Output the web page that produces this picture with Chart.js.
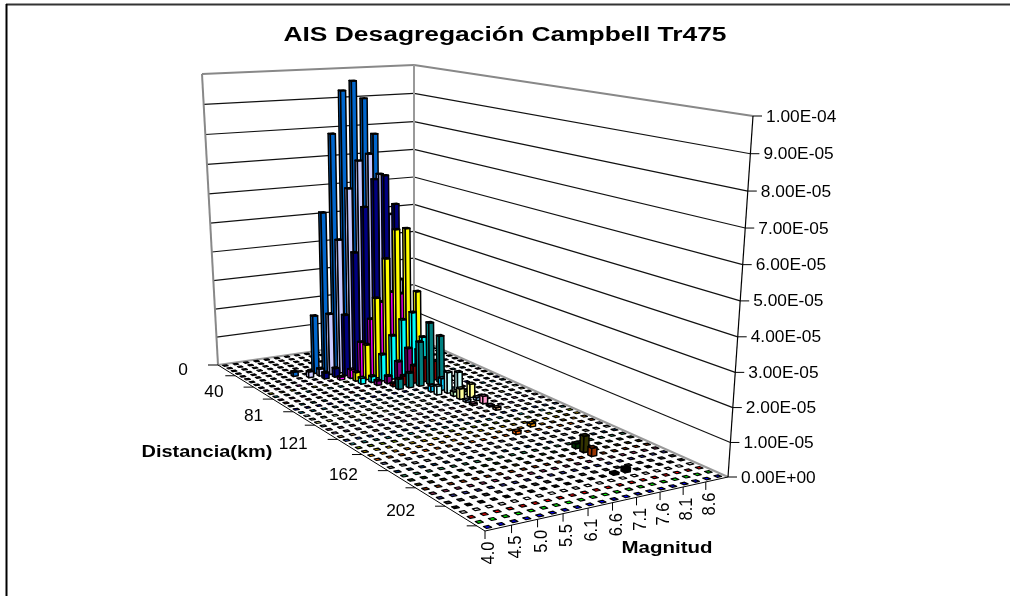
<!DOCTYPE html>
<html>
<head>
<meta charset="utf-8">
<script src="https://cdn.jsdelivr.net/npm/chart.js@4/dist/chart.umd.min.js"></script>
<style>
html,body{margin:0;padding:0;background:#fff}
canvas{display:block}
</style>
</head>
<body>
<canvas id="c" width="1010" height="596"></canvas>
<script>
const chartTitle = 'AIS Desagregación Campbell Tr475';
const magnitudeTitle = 'Magnitud';
const distanceTitle = 'Distancia(km)';

const magnitudes = ['4.0','4.3','4.5','4.8','5.0','5.3','5.5','5.8','6.1','6.3','6.6','6.8','7.1','7.3','7.6','7.8','8.1','8.3','8.6','8.8'];
const distances = ['0','5','10','15','20','25','30','35','40','45','51','56','61','66','71','76','81','86','91','96','101','106','111','116','121','126','131','136','141','146','152','157','162','167','172','177','182','187','192','197','202','207','212','217','222'];
const valueTicks = [0,1e-5,2e-5,3e-5,4e-5,5e-5,6e-5,7e-5,8e-5,9e-5,1e-4];
const valueTickLabels = ['0.00E+00','1.00E-05','2.00E-05','3.00E-05','4.00E-05','5.00E-05','6.00E-05','7.00E-05','8.00E-05','9.00E-05','1.00E-04'];

// one array per distance row, back of the floor to the front
const d0   = [0,0,0,0,0,0,0,0,0,0,0,0,0,0,0,0,0,0,0,0];
const d5   = [0,0,0,0,0,0,0,0,0,0,0,0,0,0,0,0,0,0,0,0];
const d10  = [0,0,0,0,0,0,0,0,0,0,0,0,0,0,0,0,0,0,0,0];
const d15  = [0,0,0,0,0,0,0,0,0,0,0,0,0,0,0,0,0,0,0,0];
const d20  = [0,0,0,0,0,0,0,0,0,0,0,0,0,0,0,0,0,0,0,0];
const d25  = [0,0,0,0,0,0,0,0,0,0,0,0,0,0,0,0,0,0,0,0];
const d30  = [0,0,0,0,1.5e-6,0,2.0e-5,5.5e-5,8.1e-5,9.5e-5,9.8e-5,9.2e-5,8.0e-5,5.5e-5,3.0e-5,1.0e-5,0,0,0,0];
const d35  = [0,0,0,0,0,2.0e-6,2.4e-6,2.1e-5,4.6e-5,6.3e-5,7.2e-5,7.4e-5,6.7e-5,5.3e-5,3.0e-5,1.0e-5,0,0,0,0];
const d40  = [0,0,0,0,0,0,2.0e-6,3.0e-6,2.1e-5,4.2e-5,5.7e-5,6.6e-5,6.7e-5,5.7e-5,3.0e-5,8.0e-6,0,0,0,0];
const d45  = [0,0,0,0,0,0,0,1.0e-6,3.0e-6,1.2e-5,1.95e-5,2.5e-5,2.8e-5,2.7e-5,1.5e-5,4.0e-6,0,0,0,0];
const d51  = [0,0,0,0,0,0,0,0,3.0e-6,1.2e-5,2.75e-5,4.05e-5,5.0e-5,5.0e-5,2.8e-5,0,0,0,0,0];
const d56  = [0,0,0,0,0,0,0,0,2.0e-6,2.0e-6,9.0e-6,1.5e-5,2.0e-5,2.2e-5,1.3e-5,0,0,0,0,0];
const d61  = [0,0,0,0,0,0,0,0,0,1.5e-6,2.5e-6,7.0e-6,1.1e-5,1.0e-5,5.0e-6,0,0,0,0,0];
const d66  = [0,0,0,0,0,0,0,0,0,0,1.0e-6,3.0e-6,6.0e-6,8.0e-6,6.5e-6,0,0,0,0,0];
const d71  = [0,0,0,0,0,0,0,0,0,0,3.5e-6,5.0e-6,1.5e-5,2.1e-5,1.6e-5,0,0,0,0,0];
const d76  = [0,0,0,0,0,0,0,0,0,0,0,0,0,0,0,0,0,0,0,0];
const d81  = [0,0,0,0,0,0,0,0,0,0,0,0,2.0e-6,4.0e-6,0,0,0,0,0,0];
const d86  = [0,0,0,0,0,0,0,0,0,0,0,0,3.0e-6,7.0e-6,6.5e-6,0,0,0,0,0];
const d91  = [0,0,0,0,0,0,0,0,0,0,0,0,0,1.5e-6,1.0e-6,0,0,0,0,0];
const d96  = [0,0,0,0,0,0,0,0,0,0,0,0,0,3.5e-6,4.5e-6,0,0,0,0,0];
const d101 = [0,0,0,0,0,0,0,0,0,0,0,0,0,8.0e-7,1.0e-6,0,0,0,0,0];
const d106 = [0,0,0,0,0,0,0,0,0,0,0,0,0,6.0e-7,2.5e-6,0,0,0,0,0];
const d111 = [0,0,0,0,0,0,0,0,0,0,0,0,0,0,5.0e-7,0,0,0,0,0];
const d116 = [0,0,0,0,0,0,0,0,0,0,0,0,0,0,8.0e-7,0,0,0,0,0];
const d121 = [0,0,0,0,0,0,0,0,0,0,0,0,0,0,0,0,0,0,0,0];
const d126 = [0,0,0,0,0,0,0,0,0,0,0,0,0,0,0,0,0,0,0,0];
const d131 = [0,0,0,0,0,0,0,0,0,0,0,0,0,0,0,0,0,0,0,0];
const d136 = [0,0,0,0,0,0,0,0,0,0,0,0,0,0,0,0,0,0,0,0];
const d141 = [0,0,0,0,0,0,0,0,0,0,0,0,0,0,1.0e-6,0,0,0,0,0];
const d146 = [0,0,0,0,0,0,0,0,0,0,0,0,1.0e-6,0,0,0,0,0,0,0];
const d152 = [0,0,0,0,0,0,0,0,0,0,0,0,0,0,0,0,0,0,0,0];
const d157 = [0,0,0,0,0,0,0,0,0,0,0,0,0,0,0,0,0,0,0,0];
const d162 = [0,0,0,0,0,0,0,0,0,0,0,0,0,0,0,0,0,0,0,0];
const d167 = [0,0,0,0,0,0,0,0,0,0,0,0,0,0,0,0,0,0,0,0];
const d172 = [0,0,0,0,0,0,0,0,0,0,0,0,0,0,1.5e-6,0,0,0,0,0];
const d177 = [0,0,0,0,0,0,0,0,0,0,0,0,0,0,5.0e-6,0,0,0,0,0];
const d182 = [0,0,0,0,0,0,0,0,0,0,0,0,0,0,2.5e-6,0,0,0,0,0];
const d187 = [0,0,0,0,0,0,0,0,0,0,0,0,0,0,0,0,0,0,0,0];
const d192 = [0,0,0,0,0,0,0,0,0,0,0,0,0,0,0,0,0,0,0,0];
const d197 = [0,0,0,0,0,0,0,0,0,0,0,0,0,0,0,0,0,0,0,0];
const d202 = [0,0,0,0,0,0,0,0,0,0,0,0,0,5.0e-7,1.3e-6,0,0,0,0,0];
const d207 = [0,0,0,0,0,0,0,0,0,0,0,0,0,0,0,0,0,0,0,0];
const d212 = [0,0,0,0,0,0,0,0,0,0,0,0,0,0,0,0,0,0,0,0];
const d217 = [0,0,0,0,0,0,0,0,0,0,0,0,0,0,0,0,0,0,0,0];
const d222 = [0,0,0,0,0,0,0,0,0,0,0,0,0,0,0,0,0,0,0,0];

const rows = [d0,d5,d10,d15,d20,d25,d30,d35,d40,d45,d51,d56,d61,d66,d71,d76,d81,d86,d91,d96,d101,d106,d111,d116,d121,d126,d131,d136,d141,d146,d152,d157,d162,d167,d172,d177,d182,d187,d192,d197,d202,d207,d212,d217,d222];

const rowColors = ['#9999FF','#993366','#FFFFCC','#CCFFFF','#660066','#FF8080','#0066CC','#CCCCFF','#000080','#FF00FF','#FFFF00','#00FFFF','#800080','#800000','#008080','#0000FF','#00CCFF','#CCFFFF','#CCFFCC','#FFFF99','#99CCFF','#FF99CC','#CC99FF','#FFCC99','#3366FF','#33CCCC','#99CC00','#FFCC00','#FF9900','#FF6600','#666699','#969696','#003366','#339966','#003300','#333300','#993300','#993366','#333399','#333333','#000000','#FFFFFF','#FF0000','#00FF00','#0000FF'];

// Camera: where the corners of the floor and ceiling land on the page.
// Each list is back-left, back, right, front.
const floorCorners = [[218,365],[414,337],[728,477],[485,531]];
const ceilCorners = [[202,74],[414,65],[753,116],[492,151]];
const heightBend = 1.05;   // upper part of the value axis is slightly longer
const barFill = 0.46;      // share of a cell taken by a bar
const cellFill = 0.38;     // same for an empty cell on the floor

function quadMap(p){
  const [p0,p1,p2,p3] = p;
  const dx1=p1[0]-p2[0], dx2=p3[0]-p2[0], sx=p0[0]-p1[0]+p2[0]-p3[0];
  const dy1=p1[1]-p2[1], dy2=p3[1]-p2[1], sy=p0[1]-p1[1]+p2[1]-p3[1];
  const den=dx1*dy2-dx2*dy1;
  const g=(sx*dy2-dx2*sy)/den, h=(dx1*sy-sx*dy1)/den;
  const a=p1[0]-p0[0]+g*p1[0], b=p3[0]-p0[0]+h*p3[0];
  const d=p1[1]-p0[1]+g*p1[1], e=p3[1]-p0[1]+h*p3[1];
  return (u,v)=>{
    const w=g*u+h*v+1;
    return [(a*u+b*v+p0[0])/w,(d*u+e*v+p0[1])/w];
  };
}
const floorAt = quadMap(floorCorners);
const ceilAt = quadMap(ceilCorners);

function project(u,v,z){
  const f=floorAt(u,v);
  if(z<=0) return f;
  const c=ceilAt(u,v);
  const t=z/(z+(1-z)*heightBend);
  return [f[0]+(c[0]-f[0])*t,f[1]+(c[1]-f[1])*t];
}

function frac(scale,val){ return scale.getDecimalForPixel(scale.getPixelForValue(val)); }

function poly(ctx,pts,fill){
  ctx.beginPath();
  pts.forEach((p,i)=> i?ctx.lineTo(p[0],p[1]):ctx.moveTo(p[0],p[1]));
  ctx.closePath();
  if(fill){ ctx.fillStyle=fill; ctx.fill(); }
  ctx.stroke();
}

// bar controller that keeps the parsing and scales of a bar chart but draws the bars in the 3D box
class Bar3DController extends Chart.BarController {
  draw(){
    const chart=this.chart, ctx=chart.ctx;
    const xs=chart.scales.x, ys=chart.scales.y, rs=chart.scales.dist;
    const color=this.getDataset().backgroundColor;
    const v=frac(rs,this.index);
    ctx.save();
    ctx.strokeStyle='#000';
    ctx.lineJoin='round';
    // columns nearest the camera go last
    for(let i=magnitudes.length-1;i>=0;i--){
      const u=frac(xs,i), z=frac(ys,this.getParsed(i).y);
      const share=z>0?barFill:cellFill;
      const hu=share/2/magnitudes.length, hv=share/2/distances.length;
      const a=project(u-hu,v-hv,z), b=project(u-hu,v+hv,z), c=project(u+hu,v+hv,z), d=project(u+hu,v-hv,z);
      ctx.lineWidth=z>0?1.5:1.2;
      if(z>0){
        const a0=project(u-hu,v-hv,0), b0=project(u-hu,v+hv,0), c0=project(u+hu,v+hv,0);
        poly(ctx,[a,b,b0,a0],color);
        poly(ctx,[b,c,c0,b0],color);
      }
      poly(ctx,[a,b,c,d],color);
    }
    ctx.restore();
  }
}
Bar3DController.id='bar3d';
Bar3DController.defaults=Chart.BarController.defaults;
Bar3DController.overrides=Chart.BarController.overrides;
Chart.register(Bar3DController);

function text(ctx,str,x,y,font,stretch,align){
  ctx.save();
  ctx.font=font;
  ctx.fillStyle='#000';
  ctx.textBaseline='middle';
  ctx.textAlign=align||'center';
  ctx.translate(x,y);
  ctx.scale(stretch,1);
  ctx.fillText(str,0,0);
  ctx.restore();
}

function line(ctx,p,q,color,width){
  ctx.strokeStyle=color;
  ctx.lineWidth=width;
  ctx.beginPath();
  ctx.moveTo(p[0],p[1]);
  ctx.lineTo(q[0],q[1]);
  ctx.stroke();
}

const box3d = {
  id:'box3d',
  beforeDatasetsDraw(chart){
    const ctx=chart.ctx;
    const xs=chart.scales.x, ys=chart.scales.y, rs=chart.scales.dist;
    ctx.save();
    ctx.fillStyle='#fff';
    ctx.fillRect(0,0,1010,596);

    // frame of the chart area
    line(ctx,[6,4.5],[1010,4.5],'#333',2);
    line(ctx,[6.5,4],[6.5,596],'#000',2);

    text(ctx,chartTitle,505,35,'bold 20px "Liberation Sans"',1.32);

    // walls
    valueTicks.forEach((val,i)=>{
      const z=frac(ys,val);
      const top=i===valueTicks.length-1;
      const col=top?'#888':'#111', w=top?2:1.2;
      if(i>0){
        line(ctx,project(0,0,z),project(1,0,z),col,w);
        line(ctx,project(1,0,z),project(1,1,z),col,w);
      }
    });
    line(ctx,project(0,0,0),project(0,0,1),'#888',2);
    line(ctx,project(1,0,0),project(1,0,1),'#999',2);
    line(ctx,project(1,0,0),project(0,0,0),'#999',2);
    line(ctx,project(1,0,0),project(1,1,0),'#999',2);

    // floor front edges and the value axis
    line(ctx,project(0,0,0),project(0,1,0),'#000',1);
    line(ctx,project(0,1,0),project(1,1,0),'#000',1);
    line(ctx,project(1,1,0),project(1,1,1),'#000',1.2);

    valueTicks.forEach((val,i)=>{
      const p=project(1,1,frac(ys,val));
      line(ctx,p,[p[0]+9,p[1]],'#000',1);
      text(ctx,valueTickLabels[i],p[0]+13,p[1]+1,'16.5px "Liberation Sans"',1.05,'left');
    });

    // distance axis: a tick every 4 rows, a label every 8
    distances.forEach((lab,i)=>{
      if(i%4) return;
      const p=project(0,frac(rs,i-0.5),0);
      line(ctx,p,[p[0]-10,p[1]],'#000',1);
      if(i%8===0) text(ctx,lab,p[0]-30,p[1]+5,'16.5px "Liberation Sans"',1.05,'right');
    });

    // magnitude axis: a tick and a label every 2 columns
    magnitudes.forEach((lab,i)=>{
      if(i%2) return;
      const p=project(frac(xs,i-0.5),1,0);
      line(ctx,p,[p[0],p[1]+8],'#000',1);
      ctx.save();
      ctx.translate(p[0]+4,p[1]+22);
      ctx.rotate(-Math.PI/2);
      ctx.scale(1,1.12);
      text(ctx,lab,0,0,'16.5px "Liberation Sans"',1.0);
      ctx.restore();
    });

    text(ctx,distanceTitle,207,452,'bold 16.5px "Liberation Sans"',1.21);
    text(ctx,magnitudeTitle,667,548,'bold 16.5px "Liberation Sans"',1.24);
    ctx.restore();
  }
};

new Chart(document.getElementById('c').getContext('2d'),{
  type:'bar3d',
  data:{
    labels:magnitudes,
    datasets:rows.map((r,i)=>({label:distances[i],data:r,backgroundColor:rowColors[i],order:-i}))
  },
  options:{
    responsive:false,
    animation:false,
    events:[],
    layout:{padding:0},
    plugins:{legend:{display:false},title:{display:false},tooltip:{enabled:false}},
    scales:{
      x:{type:'category',offset:true,display:false},
      y:{type:'linear',min:0,max:valueTicks[valueTicks.length-1],display:false},
      dist:{type:'category',axis:'x',labels:distances,offset:true,display:false}
    }
  },
  plugins:[box3d]
});
</script>
</body>
</html>
